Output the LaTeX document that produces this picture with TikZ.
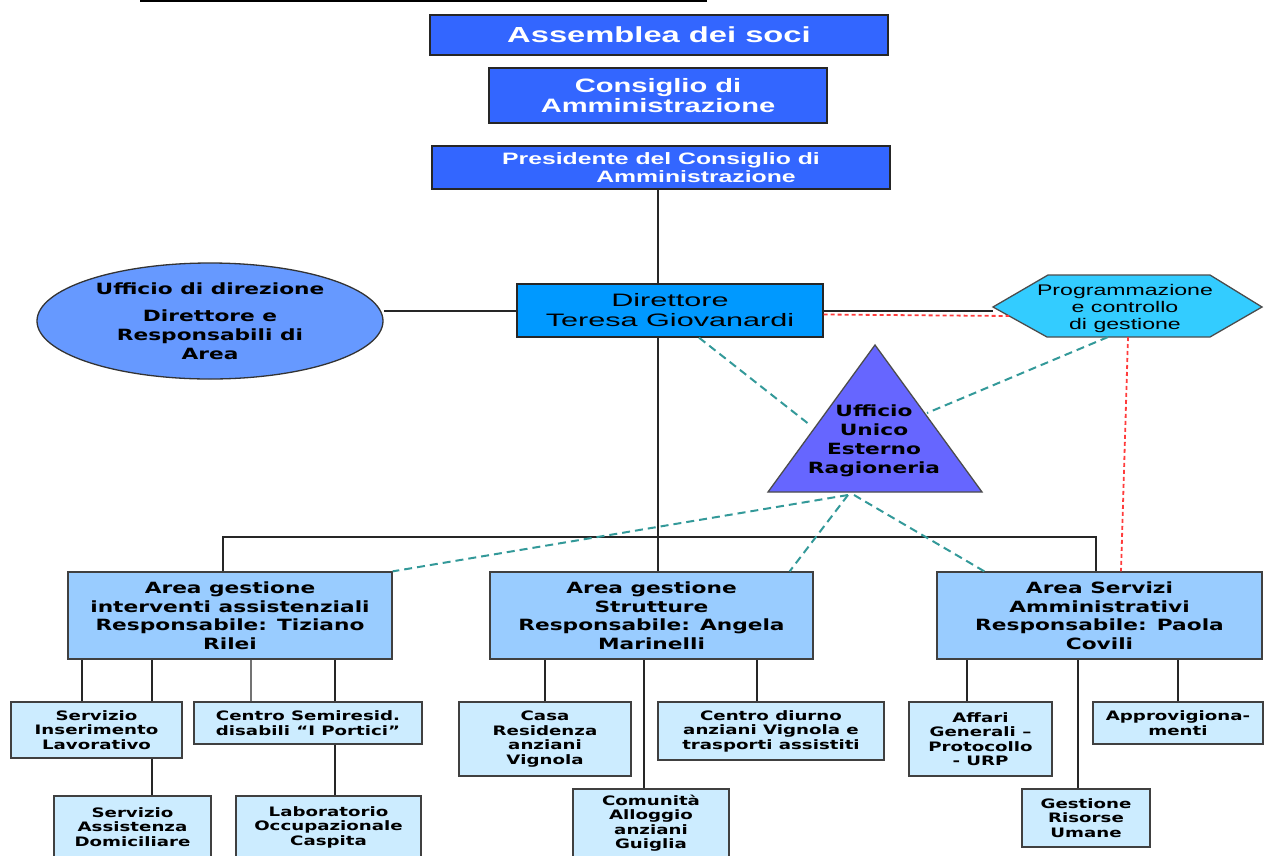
\documentclass[tikz,border=0pt]{standalone}
\usepackage{fontspec}
\setmainfont{Liberation Sans}[FakeStretch=1.5]
\newfontfamily\widedir{Liberation Sans}[FakeStretch=1.7]
\newfontfamily\wide{DejaVu Sans}[FakeStretch=1.4]
\usetikzlibrary{shapes.geometric,calc}

\definecolor{topblue}{RGB}{51,102,255}
\definecolor{dirblue}{RGB}{0,153,255}
\definecolor{ovalblue}{RGB}{102,153,255}
\definecolor{hexcyan}{RGB}{51,204,255}
\definecolor{triviolet}{RGB}{102,102,255}
\definecolor{areablue}{RGB}{153,204,255}
\definecolor{unitblue}{RGB}{204,236,255}
\definecolor{staffteal}{RGB}{51,153,153}
\definecolor{ctrlred}{RGB}{255,60,60}

\tikzset{
  topbox/.style={draw=black!85, line width=1.4pt, fill=topblue, text=white,
    align=center, inner sep=0pt},
  areabox/.style={draw=black!75, line width=1.3pt, fill=areablue, align=center,
    inner sep=0pt, minimum height=87pt,
    font=\wide\bfseries\fontsize{15.5}{18.5}\selectfont},
  unitbox/.style={draw=black!75, line width=1.3pt, fill=unitblue, align=center,
    inner sep=0pt, font=\wide\bfseries\fontsize{13}{14.5}\selectfont},
  tie/.style={black!85, line width=2pt},
  staff/.style={staffteal, line width=2pt, dash pattern=on 8pt off 5pt},
  ctrl/.style={ctrlred, line width=1.8pt, dash pattern=on 4pt off 3pt},
}

\begin{document}
\begin{tikzpicture}[x=1pt,y=-1pt]
\useasboundingbox (0,0) rectangle (1264,855);

\draw[line width=2pt] (140,1) -- (707,1);

% governing bodies
\node[topbox, minimum width=458pt, minimum height=40pt,
  font=\bfseries\fontsize{21.8}{26}\selectfont] (ass) at (659,35) {Assemblea dei soci};
\node[topbox, minimum width=338pt, minimum height=55pt,
  font=\bfseries\fontsize{19.4}{20}\selectfont] (cda) at (658,95.5) {Consiglio di\\Amministrazione};
\node[topbox, minimum width=458pt, minimum height=43pt,
  font=\bfseries\fontsize{16.5}{17.5}\selectfont] (pres) at (661,167.5)
  {Presidente del Consiglio di\\\hspace*{70pt}Amministrazione};

\node[draw=black!85, line width=1.3pt, fill=dirblue, minimum width=306pt,
  minimum height=53pt, inner sep=0pt, align=center,
  font=\widedir\fontsize{18}{20}\selectfont] (dir) at (670,310.5) {Direttore\\Teresa Giovanardi};

\node[ellipse, draw=black!80, line width=1.3pt, fill=ovalblue, minimum width=346pt,
  minimum height=116pt, inner sep=0pt, align=center,
  font=\wide\bfseries\fontsize{15.5}{19}\selectfont] (uff) at (210,321)
  {Ufficio di direzione\\[8pt]Direttore e\\Responsabili di\\Area};

% hexagon
\coordinate (hexW) at (993,307);
\coordinate (hexNW) at (1048,275);
\coordinate (hexNE) at (1210,275);
\coordinate (hexE) at (1262,307);
\coordinate (hexSE) at (1210,337);
\coordinate (hexSW) at (1047,337);
\coordinate (hexS) at (1128,337);
\coordinate (hexT) at (1108,337);
\filldraw[fill=hexcyan, draw=black!70, line width=1.3pt]
  (hexW) -- (hexNW) -- (hexNE) -- (hexE) -- (hexSE) -- (hexSW) -- cycle;
\node[align=center, inner sep=0pt, font=\fontsize{15.4}{17}\selectfont] (prog)
  at (1125,309) {Programmazione\\e controllo\\di gestione};

% triangle
\coordinate (triA) at (875,345);
\coordinate (triL) at (768,492);
\coordinate (triR) at (982,492);
\coordinate (ragW) at (810,425);
\coordinate (ragE) at (927,413);
\coordinate (ragS) at (848,495);
\filldraw[fill=triviolet, draw=black!70, line width=1.3pt] (triA) -- (triR) -- (triL) -- cycle;
\node[align=center, inner sep=0pt, font=\wide\bfseries\fontsize{15.5}{19}\selectfont] (rag)
  at (874,441) {Ufficio\\Unico\\Esterno\\Ragioneria};

% areas
\node[areabox, minimum width=324pt] (a1) at (230,615.5)
  {Area gestione\\interventi assistenziali\\Responsabile: Tiziano\\Rilei};
\node[areabox, minimum width=323pt] (a2) at (651.5,615.5)
  {Area gestione\\Strutture\\Responsabile: Angela\\Marinelli};
\node[areabox, minimum width=325pt] (a3) at (1099.5,615.5)
  {Area Servizi\\Amministrativi\\Responsabile: Paola\\Covili};

% units
\node[unitbox, minimum width=171pt, minimum height=56pt] (sil) at (96.5,730)
  {Servizio\\Inserimento\\Lavorativo};
\node[unitbox, minimum width=228pt, minimum height=42pt] (csd) at (308,723)
  {Centro Semiresid.\\disabili “I Portici”};
\node[unitbox, minimum width=157pt, minimum height=62pt] (sad) at (132.5,827)
  {Servizio\\Assistenza\\Domiciliare};
\node[unitbox, minimum width=185pt, minimum height=62pt] (lab) at (328.5,827)
  {Laboratorio\\Occupazionale\\Caspita};
\node[unitbox, minimum width=172pt, minimum height=74pt] (cra) at (545,739)
  {Casa\\Residenza\\anziani\\Vignola};
\node[unitbox, minimum width=226pt, minimum height=58pt] (cdv) at (771,731)
  {Centro diurno\\anziani Vignola e\\trasporti assistiti};
\node[unitbox, minimum width=156pt, minimum height=68pt] (cal) at (651,823)
  {Comunità\\Alloggio\\anziani\\Guiglia};
\node[unitbox, minimum width=143pt, minimum height=74pt] (aff) at (980.5,739)
  {Affari\\Generali –\\Protocollo\\- URP};
\node[unitbox, minimum width=170pt, minimum height=42pt] (app) at (1178,723)
  {Approvigiona-\\menti};
\node[unitbox, minimum width=128pt, minimum height=58pt] (grs) at (1086,818)
  {Gestione\\Risorse\\Umane};

% line of command
\coordinate (spine) at (658,537);
\draw[tie] (pres.south -| spine) -- (dir.north -| spine);
\draw[tie] (dir.south -| spine) -- (a2.north -| spine);
\draw[tie] ([xshift=-7pt]a1.north) |- (spine) -| ([xshift=-3.5pt]a3.north);
\draw[tie] (dir.west) -- (dir.west -| uff.east);
\draw[tie] (dir.east) -- (dir.east -| hexW);

\draw[tie] ([xshift=-14.5pt]sil.north) -- ([xshift=-14.5pt]sil.north |- a1.south);
\draw[tie] ([xshift=55.5pt]sil.north) -- ([xshift=55.5pt]sil.north |- a1.south);
\draw[tie, black!55, line width=1.4pt] ([xshift=-57pt]csd.north) -- ([xshift=-57pt]csd.north |- a1.south);
\draw[tie] ([xshift=27pt]csd.north) -- ([xshift=27pt]csd.north |- a1.south);
\draw[tie] ([xshift=55.5pt]sil.south) -- ([xshift=55.5pt]sil.south |- sad.north);
\draw[tie] ([xshift=27pt]csd.south) -- ([xshift=27pt]csd.south |- lab.north);

\draw[tie] (cra.north) -- (cra.north |- a2.south);
\draw[tie] ([xshift=-14pt]cdv.north) -- ([xshift=-14pt]cdv.north |- a2.south);
\draw[tie] ([xshift=-7pt]cal.north) -- ([xshift=-7pt]cal.north |- a2.south);

\draw[tie] ([xshift=-13.5pt]aff.north) -- ([xshift=-13.5pt]aff.north |- a3.south);
\draw[tie] (app.north) -- (app.north |- a3.south);
\draw[tie] ([xshift=-8pt]grs.north) -- ([xshift=-8pt]grs.north |- a3.south);

% staff and control
\draw[staff] ([xshift=29pt]dir.south) -- (ragW);
\draw[staff] (hexT) -- (ragE);
\draw[staff] (ragS) -- (a1.north east);
\draw[staff] (ragS) -- ([xshift=-24pt]a2.north east);
\draw[staff] ([xshift=6pt]ragS) -- ([xshift=48pt]a3.north west);
\draw[ctrl] ([yshift=-4pt]dir.east) -- ($(hexW)!0.3!(hexSW)$);
\draw[ctrl] (hexS) -- ([xshift=21.5pt]a3.north);
\end{tikzpicture}
\end{document}
